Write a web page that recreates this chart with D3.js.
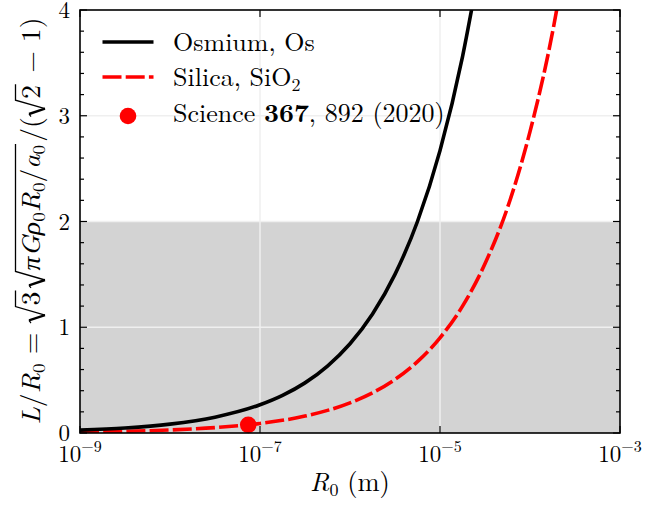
<!DOCTYPE html>
<html><head><meta charset="utf-8">
<script src="https://cdn.jsdelivr.net/npm/d3@7"></script>
<style>
body{margin:0;background:#fff;}
text{font-family:"Latin Modern Roman","CMU Serif","Liberation Serif","DejaVu Serif",serif;fill:#000;white-space:pre;}
</style></head>
<body><svg id="chart" width="648" height="507"></svg>
<script>
// ---- data ----
const osmiumR = [1e-9, 3.16e-9, 1e-8, 3.16e-8, 1e-7, 1.78e-7, 3.16e-7, 5.62e-7, 1e-6, 1.78e-6, 3.16e-6, 5.62e-6, 1e-5, 1.78e-5, 2.5e-5];
const osmiumL = [0.027, 0.047, 0.084, 0.150, 0.267, 0.356, 0.474, 0.633, 0.844, 1.125, 1.50, 2.00, 2.67, 3.56, 4.22];
const silicaR = [1e-9, 3.16e-9, 1e-8, 3.16e-8, 1e-7, 3.16e-7, 1e-6, 1.78e-6, 3.16e-6, 5.62e-6, 1e-5, 1.78e-5, 3.16e-5, 5.62e-5, 1e-4, 1.78e-4, 2.5e-4];
const silicaL = [0.009, 0.016, 0.0285, 0.051, 0.090, 0.160, 0.285, 0.380, 0.506, 0.675, 0.90, 1.20, 1.60, 2.13, 2.85, 3.79, 4.50];
const pointR = [7.4e-8];
const pointL = [0.077];
const xTicks = [1e-9, 1e-7, 1e-5, 1e-3];
const xTickExp = ["−9", "−7", "−5", "−3"];
const yTicks = [0, 1, 2, 3, 4];
const yMinor = [0.2,0.4,0.6,0.8,1.2,1.4,1.6,1.8,2.2,2.4,2.6,2.8,3.2,3.4,3.6,3.8];
const bandRange = [0, 2];

const svg = d3.select("#chart");
const m = {l:80, r:620, t:10, b:433};
const x = d3.scaleLog().domain([1e-9, 1e-3]).range([m.l, m.r]);
const y = d3.scaleLinear().domain([0, 4]).range([m.b, m.t]);
const LW = 3.6, DASH = "19,4.2";

svg.append("defs").append("clipPath").attr("id","clip")
  .append("rect").attr("x",m.l).attr("y",m.t).attr("width",m.r-m.l).attr("height",m.b-m.t);

// band
svg.append("rect").attr("x",m.l).attr("width",m.r-m.l)
  .attr("y",y(bandRange[1])).attr("height",y(bandRange[0])-y(bandRange[1]))
  .attr("fill","#d3d3d3");

// grid
const grid = svg.append("g").attr("stroke","#efefef").attr("stroke-width",1.5);
xTicks.slice(1,-1).forEach(t=>grid.append("line").attr("x1",x(t)).attr("x2",x(t)).attr("y1",m.t).attr("y2",m.b));
yTicks.slice(1,-1).forEach(t=>grid.append("line").attr("y1",y(t)).attr("y2",y(t)).attr("x1",m.l).attr("x2",m.r));

// curves
const line = d3.line().x(d=>x(d[0])).y(d=>y(d[1])).curve(d3.curveMonotoneX);
const plot = svg.append("g").attr("clip-path","url(#clip)");
plot.append("path").datum(silicaR.map((r,i)=>[r,silicaL[i]])).attr("d",line)
  .attr("fill","none").attr("stroke","#ff0000").attr("stroke-width",LW).attr("stroke-dasharray",DASH);
plot.append("path").datum(osmiumR.map((r,i)=>[r,osmiumL[i]])).attr("d",line)
  .attr("fill","none").attr("stroke","#000").attr("stroke-width",LW);
svg.append("g").selectAll("circle").data(pointR).join("circle")
  .attr("cx",d=>x(d)).attr("cy",(d,i)=>y(pointL[i])).attr("r",8.3).attr("fill","#ff0000");

// ticks
const tk = svg.append("g").attr("stroke","#000").attr("stroke-width",1.2);
xTicks.forEach(t=>{
  tk.append("line").attr("x1",x(t)).attr("x2",x(t)).attr("y1",m.b).attr("y2",m.b-7);
  tk.append("line").attr("x1",x(t)).attr("x2",x(t)).attr("y1",m.t).attr("y2",m.t+7);
});
yTicks.forEach(t=>{
  tk.append("line").attr("x1",m.l).attr("x2",m.l+7).attr("y1",y(t)).attr("y2",y(t));
  tk.append("line").attr("x1",m.r).attr("x2",m.r-7).attr("y1",y(t)).attr("y2",y(t));
});
yMinor.forEach(t=>{
  tk.append("line").attr("x1",m.l).attr("x2",m.l+4).attr("y1",y(t)).attr("y2",y(t));
  tk.append("line").attr("x1",m.r).attr("x2",m.r-4).attr("y1",y(t)).attr("y2",y(t));
});
// frame
svg.append("rect").attr("x",m.l).attr("y",m.t).attr("width",m.r-m.l).attr("height",m.b-m.t)
  .attr("fill","none").attr("stroke","#000").attr("stroke-width",1.6);

// tick labels
const fs = 23;
yTicks.forEach(t=>{
  svg.append("text").attr("x",m.l-10).attr("y",y(t)+8).attr("text-anchor","end")
    .attr("font-size",fs).text(t);
});
xTicks.forEach((t,i)=>{
  const tx = svg.append("text").attr("x",x(t)).attr("y",462).attr("text-anchor","middle").attr("font-size",fs);
  tx.append("tspan").text("10");
  tx.append("tspan").attr("dy",-10).attr("font-size",16).text(xTickExp[i]);
});

// x label
const xl = svg.append("text").attr("x",(m.l+m.r)/2).attr("y",491).attr("text-anchor","middle").attr("font-size",26.5);
xl.append("tspan").attr("font-style","italic").text("R");
xl.append("tspan").attr("dy",5).attr("font-size",18).text("0");
xl.append("tspan").attr("dy",-5).text(" (m)");

// y label built piecewise in rotated group
const lfs = 26, sfs = 18;
const yg = svg.append("g").attr("transform","translate(40,221) rotate(-90)");
const inner = yg.append("g");
let cx = 0;
function piece(str, opts={}){
  const t = inner.append("text").attr("x",cx).attr("y",opts.sub?5:0)
    .attr("font-size",opts.sub?sfs:lfs).text(str);
  if(opts.it) t.attr("font-style","italic");
  const w = t.node().getComputedTextLength();
  cx += w + (opts.pad||0);
}
const radicals = [];
function radical(buildBody){
  const x0 = cx; cx += 17;
  buildBody();
  cx += 1;
  radicals.push([x0, cx]);
  cx += 2;
}
piece("L",{it:1}); piece("/"); piece("R",{it:1}); piece("0",{sub:1});
piece(" = ");
radical(()=>piece("3"));
radical(()=>{piece("πGρ",{it:1}); piece("0",{sub:1}); piece("R",{it:1}); piece("0",{sub:1});
  piece("/"); piece("a",{it:1}); piece("0",{sub:1});});
piece("/(");
radical(()=>piece("2"));
piece(" − 1)");
radicals.forEach(([a,b])=>{
  inner.append("path").attr("d",`M${a+0.5},-9 L${a+3},-11`).attr("stroke","#000").attr("stroke-width",1.2).attr("fill","none");
  inner.append("path").attr("d",`M${a+3},-11 L${a+8},5`).attr("stroke","#000").attr("stroke-width",2.3).attr("fill","none");
  inner.append("path").attr("d",`M${a+8},5 L${a+16},-24.5 L${b},-24.5`).attr("stroke","#000").attr("stroke-width",1.3).attr("fill","none").attr("stroke-linejoin","miter");
});
const target = 407;
const k = Math.min(1.2, target / cx);
inner.attr("transform",`scale(${k},1) translate(${-cx/2},0)`);

// legend
const lg = svg.append("g");
lg.append("line").attr("x1",102.5).attr("x2",153.5).attr("y1",42).attr("y2",42).attr("stroke","#000").attr("stroke-width",LW);
lg.append("line").attr("x1",102.5).attr("x2",153.5).attr("y1",77).attr("y2",77).attr("stroke","#ff0000").attr("stroke-width",LW).attr("stroke-dasharray",DASH);
lg.append("circle").attr("cx",128).attr("cy",116).attr("r",8.3).attr("fill","#ff0000");
lg.append("text").attr("x",173).attr("y",51).attr("font-size",lfs).text("Osmium, Os");
const l2 = lg.append("text").attr("x",173).attr("y",86).attr("font-size",lfs);
l2.append("tspan").text("Silica, SiO");
l2.append("tspan").attr("dy",5).attr("font-size",sfs).text("2");
const l3 = lg.append("text").attr("x",173).attr("y",122).attr("font-size",lfs);
l3.append("tspan").text("Science ");
l3.append("tspan").attr("font-weight","bold").text("367");
l3.append("tspan").text(", 892 (2020)");
</script></body></html>
